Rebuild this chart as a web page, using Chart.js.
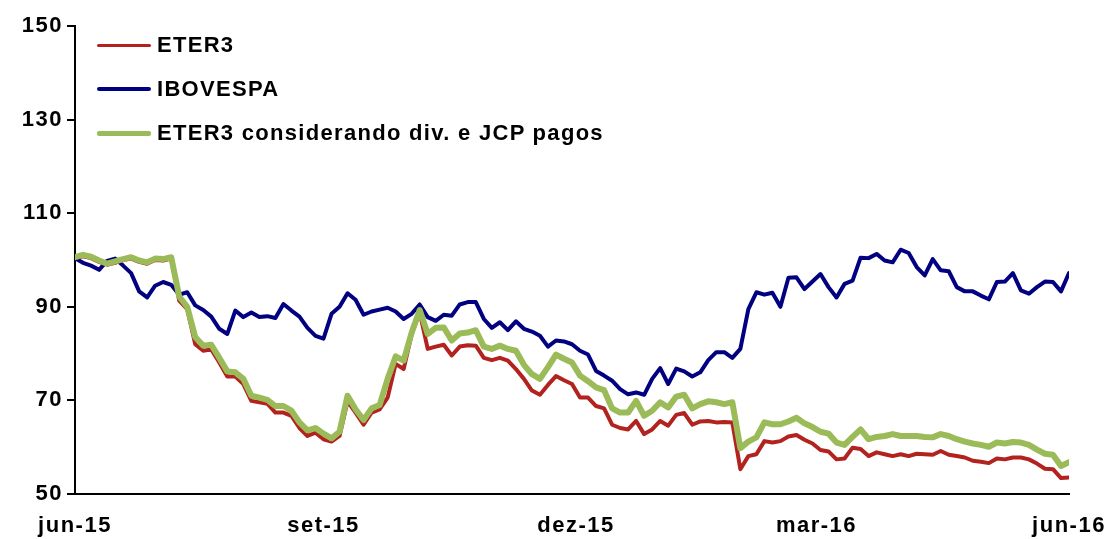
<!DOCTYPE html>
<html>
<head>
<meta charset="utf-8">
<script src="https://cdn.jsdelivr.net/npm/chart.js@4"></script>
<style>
  body { margin: 0; background: #fff; }
  #wrap { position: relative; width: 1109px; height: 539px; }
  #legend { position: absolute; left: 97px; top: 0; font: bold 22px "Liberation Sans", Arial, sans-serif; letter-spacing: 1.3px; color: #000; }
  .item { position: absolute; left: 0; white-space: nowrap; display: flex; align-items: center; height: 30px; }
  .swatch { display: inline-block; width: 54px; margin-right: 6px; border-radius: 2px; }
</style>
</head>
<body>
<div id="wrap">
  <canvas id="chart" width="1109" height="539"></canvas>
  <div id="legend"></div>
</div>
<script>
const tickLabels = ['jun-15', 'set-15', 'dez-15', 'mar-16', 'jun-16'];
const tickIndex = [0, 31, 62.5, 92.5, 124];

const seriesNames = ['ETER3', 'IBOVESPA', 'ETER3 considerando div. e JCP pagos'];
const seriesColors = ['#B2221E', '#000080', '#9BBB59'];

const eter3 = [
    100.4, 100.8, 100.4, 99.6, 99.0, 99.4, 100.0, 100.3, 99.6, 99.2,
    100.0, 99.9, 100.3, 91.3, 89.5, 82.0, 80.6, 80.9, 78.1, 75.1,
    75.1, 73.5, 69.9, 69.6, 69.3, 67.4, 67.4, 66.7, 64.1, 62.4,
    63.1, 61.7, 61.2, 62.4, 69.8, 67.4, 64.8, 67.4, 68.1, 70.6,
    77.8, 76.7, 84.2, 88.8, 81.0, 81.5, 81.9, 79.6, 81.5, 81.8,
    81.7, 79.1, 78.6, 79.1, 78.5, 76.7, 74.6, 72.1, 71.2, 73.3,
    75.2, 74.3, 73.5, 70.6, 70.6, 68.8, 68.3, 64.8, 64.1, 63.8,
    65.6, 62.8, 63.8, 65.6, 64.6, 66.9, 67.3, 64.8, 65.5, 65.6,
    65.3, 65.4, 65.3, 55.3, 58.1, 58.5, 61.3, 61.0, 61.3, 62.3,
    62.6, 61.6, 60.8, 59.4, 59.1, 57.4, 57.6, 59.9, 59.6, 58.1,
    58.9, 58.5, 58.1, 58.5, 58.1, 58.6, 58.5, 58.4, 59.2, 58.4,
    58.1, 57.8, 57.1, 56.9, 56.6, 57.6, 57.4, 57.8, 57.8, 57.4,
    56.5, 55.4, 55.3, 53.4, 53.5
];

const ibovespa = [
    100.4, 99.4, 98.8, 97.9, 99.8, 100.3, 98.8, 97.2, 93.3, 92.0,
    94.5, 95.3, 94.7, 92.6, 93.1, 90.3, 89.3, 87.9, 85.3, 84.2,
    89.2, 87.8, 88.8, 87.8, 88.0, 87.6, 90.6, 89.2, 87.9, 85.5,
    83.8, 83.2, 88.5, 90.0, 92.9, 91.5, 88.3, 89.0, 89.4, 89.8,
    89.0, 87.4, 88.5, 90.5, 87.8, 87.0, 88.3, 88.1, 90.5, 91.0,
    91.0, 87.4, 85.5, 86.7, 85.0, 86.9, 85.3, 84.7, 83.8, 81.5,
    82.8, 82.6, 82.0, 80.6, 79.8, 76.3, 75.3, 74.2, 72.4, 71.3,
    71.7, 71.2, 74.6, 76.9, 73.5, 76.8, 76.2, 75.1, 76.0, 78.6,
    80.3, 80.3, 79.1, 81.0, 89.5, 93.1, 92.6, 93.0, 90.0, 96.2,
    96.3, 93.8, 95.4, 97.0, 94.2, 92.0, 94.9, 95.6, 100.5, 100.4,
    101.3, 99.9, 99.5, 102.2, 101.5, 98.5, 96.7, 100.2, 97.8, 97.6,
    94.2, 93.3, 93.3, 92.4, 91.6, 95.3, 95.4, 97.2, 93.5, 92.8,
    94.2, 95.4, 95.3, 93.3, 97.2
];

const eter3Adj = [
    100.6, 101.1, 100.7, 99.9, 99.2, 99.7, 100.2, 100.6, 99.9, 99.5,
    100.3, 100.2, 100.6, 92.2, 90.0, 83.5, 81.7, 81.9, 79.1, 76.2,
    76.0, 74.6, 71.0, 70.6, 70.1, 68.8, 68.8, 67.8, 65.3, 63.6,
    64.1, 62.9, 61.9, 63.3, 71.0, 68.1, 65.8, 68.3, 69.0, 74.6,
    79.4, 78.5, 84.5, 89.3, 84.2, 85.5, 85.6, 82.8, 84.3, 84.5,
    85.0, 81.5, 81.0, 81.7, 81.0, 80.6, 77.6, 75.6, 74.6, 77.1,
    79.8, 78.9, 78.1, 75.3, 74.1, 72.8, 72.2, 68.3, 67.4, 67.4,
    69.9, 66.7, 67.8, 69.6, 68.5, 70.8, 71.2, 68.3, 69.2, 69.8,
    69.6, 69.2, 69.6, 59.8, 61.2, 62.1, 65.3, 64.9, 64.9, 65.5,
    66.3, 65.1, 64.3, 63.3, 62.9, 61.0, 60.5, 62.2, 63.8, 61.7,
    62.2, 62.4, 62.8, 62.4, 62.4, 62.4, 62.2, 62.1, 62.8, 62.4,
    61.7, 61.2, 60.8, 60.5, 60.1, 61.0, 60.8, 61.1, 61.0, 60.5,
    59.5, 58.6, 58.4, 56.0, 56.8
];

const seriesData = [eter3, ibovespa, eter3Adj];
const lineWidths = [4, 4, 6];
const drawOrder = [1, 2, 0];
const legendWidths = [3, 4, 5];

function toPoints(values) {
    return values.map((v, i) => ({ x: i, y: v }));
}

Chart.defaults.font.family = '"Liberation Sans", Arial, sans-serif';
Chart.defaults.font.size = 22;
Chart.defaults.font.weight = 'bold';
Chart.defaults.color = '#000';

const spacing = {
    id: 'spacing',
    beforeDraw(chart) {
        chart.ctx.letterSpacing = '1.5px';
    }
};

const ctx = document.getElementById('chart').getContext('2d');
const chart = new Chart(ctx, {
    type: 'line',
    data: {
        datasets: seriesNames.map((name, k) => ({
            label: name,
            data: toPoints(seriesData[k]),
            borderColor: seriesColors[k],
            backgroundColor: seriesColors[k],
            borderWidth: lineWidths[k],
            pointRadius: 0,
            tension: 0,
            borderJoinStyle: 'round',
            borderCapStyle: 'round',
            order: drawOrder[k]
        }))
    },
    options: {
        responsive: false,
        animation: false,
        layout: {
            padding: { top: 26, right: 40, bottom: 0, left: 0 }
        },
        plugins: {
            legend: { display: false },
            tooltip: { enabled: false }
        },
        scales: {
            x: {
                type: 'linear',
                min: 0,
                max: 124,
                grid: { display: false, drawTicks: false },
                border: { display: true, color: '#000', width: 2 },
                afterBuildTicks: scale => {
                    scale.ticks = tickIndex.map(v => ({ value: v }));
                },
                afterFit: scale => {
                    scale.height = 45;
                    scale.paddingLeft = 0;
                    scale.paddingRight = 0;
                },
                ticks: {
                    autoSkip: false,
                    maxRotation: 0,
                    padding: 19,
                    callback: (value, index) => tickLabels[index]
                }
            },
            y: {
                min: 50,
                max: 150,
                grid: {
                    display: true,
                    drawOnChartArea: false,
                    drawTicks: true,
                    tickLength: 8,
                    color: '#000',
                    lineWidth: 2
                },
                border: { display: true, color: '#000', width: 2 },
                afterFit: scale => {
                    scale.width = 75;
                    scale.paddingTop = 0;
                    scale.paddingBottom = 0;
                },
                ticks: {
                    stepSize: 20,
                    padding: 4
                }
            }
        }
    },
    plugins: [spacing]
});

const legend = document.getElementById('legend');
seriesNames.forEach((name, k) => {
    const item = document.createElement('div');
    item.className = 'item';
    item.style.top = (30 + k * 44) + 'px';
    const sw = document.createElement('span');
    sw.className = 'swatch';
    sw.style.height = legendWidths[k] + 'px';
    sw.style.background = seriesColors[k];
    const label = document.createElement('span');
    label.textContent = name;
    item.appendChild(sw);
    item.appendChild(label);
    legend.appendChild(item);
});
</script>
</body>
</html>
